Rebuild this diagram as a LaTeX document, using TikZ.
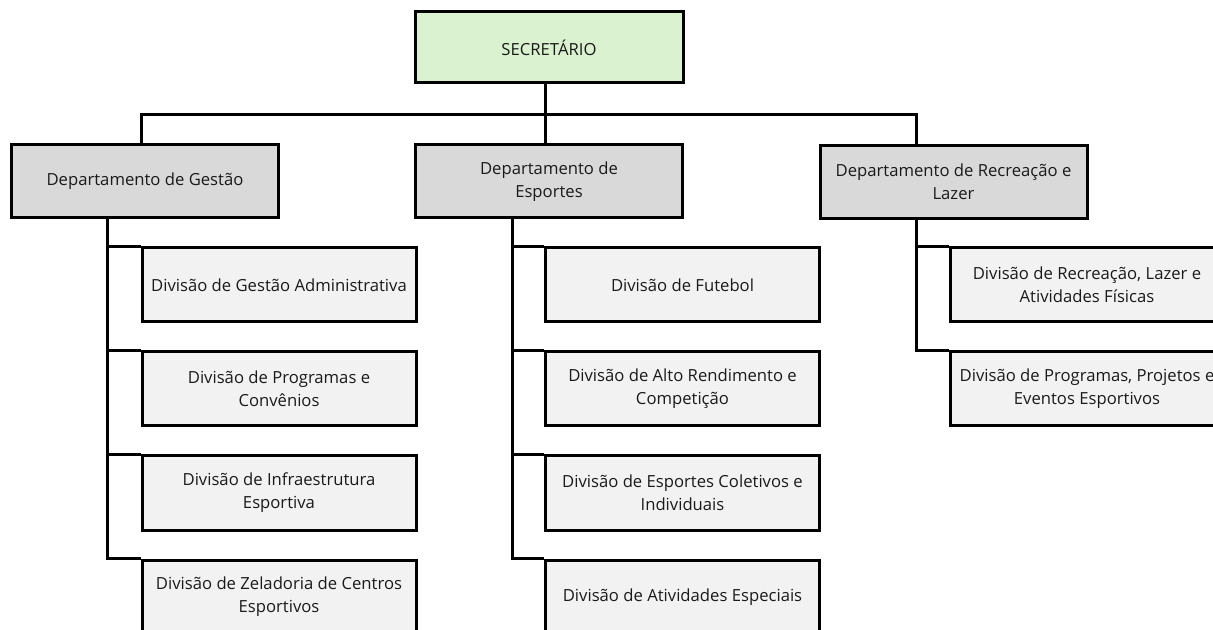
\documentclass[tikz,border=0pt]{standalone}
\usepackage{fontspec}
\setmainfont{Open Sans}
\definecolor{secgreen}{HTML}{DAF2D0}
\definecolor{deptgray}{HTML}{D9D9D9}
\definecolor{divgray}{HTML}{F2F2F2}
\definecolor{txt}{HTML}{1A1A1A}
\begin{document}
\begin{tikzpicture}[x=0.75pt,y=-0.75pt,
  box/.style={draw=black, line width=2.25pt, align=center, inner sep=0pt, text=txt,
    font=\fontsize{12.5}{17.25}\selectfont},
  secbox/.style={box, fill=secgreen, minimum width=201pt, minimum height=53.25pt},
  deptbox/.style={box, fill=deptgray, minimum width=200.25pt, minimum height=54.75pt},
  divbox/.style={box, fill=divgray, minimum width=205.5pt, minimum height=55.5pt},
  link/.style={draw=black, line width=2.25pt}]
\useasboundingbox (0,0) rectangle (1213,630);
\clip (0,0) rectangle (1213,630);
\fill[white] (0,0) rectangle (1213,630);

\node[secbox] (sec) at (549,47.5) {SECRETÁRIO};

\node[deptbox] (dG) at (145,181.5) {Departamento de Gestão};
\node[deptbox] (dE) at (549,181.5) {Departamento de\\Esportes};
\node[deptbox] (dR) at (953.5,182) {Departamento de Recreação e\\Lazer};

\node[divbox] (g1) at (279,285) {Divisão de Gestão Administrativa};
\node[divbox] (g2) at (279,389) {Divisão de Programas e\\Convênios};
\node[divbox] (g3) at (279,493) {Divisão de Infraestrutura\\Esportiva};
\node[divbox] (g4) at (279,597) {Divisão de Zeladoria de Centros\\Esportivos};

\node[divbox] (e1) at (682.5,285) {Divisão de Futebol};
\node[divbox] (e2) at (682.5,389) {Divisão de Alto Rendimento e\\Competição};
\node[divbox] (e3) at (682.5,493) {Divisão de Esportes Coletivos e\\Individuais};
\node[divbox] (e4) at (682.5,597) {Divisão de Atividades Especiais};

\node[divbox] (r1) at (1087,285) {Divisão de Recreação, Lazer e\\Atividades Físicas};
\node[divbox] (r2) at (1087,389) {Divisão de Programas, Projetos e\\Eventos Esportivos};

% bus
\coordinate (bL) at (141,115);
\coordinate (bM) at (545,115);
\coordinate (bR) at (916,115);
\draw[link] (sec.south -| bM) -- (bM);
\draw[link] (bL |- dG.north) -- (bL) -- (bR) -- (bR |- dR.north);
\draw[link] (bM) -- (bM |- dE.north);

% stems
\coordinate (gS) at (107,0);
\coordinate (eS) at (512,0);
\coordinate (rS) at (916,0);
\draw[link] (dG.south -| gS) -- (g4.north west -| gS) -- (g4.north west);
\draw[link] (g1.north west -| gS) -- (g1.north west);
\draw[link] (g2.north west -| gS) -- (g2.north west);
\draw[link] (g3.north west -| gS) -- (g3.north west);

\draw[link] (dE.south -| eS) -- (e4.north west -| eS) -- (e4.north west);
\draw[link] (e1.north west -| eS) -- (e1.north west);
\draw[link] (e2.north west -| eS) -- (e2.north west);
\draw[link] (e3.north west -| eS) -- (e3.north west);

\draw[link] (dR.south -| rS) -- (r2.north west -| rS) -- (r2.north west);
\draw[link] (r1.north west -| rS) -- (r1.north west);
\end{tikzpicture}
\end{document}
